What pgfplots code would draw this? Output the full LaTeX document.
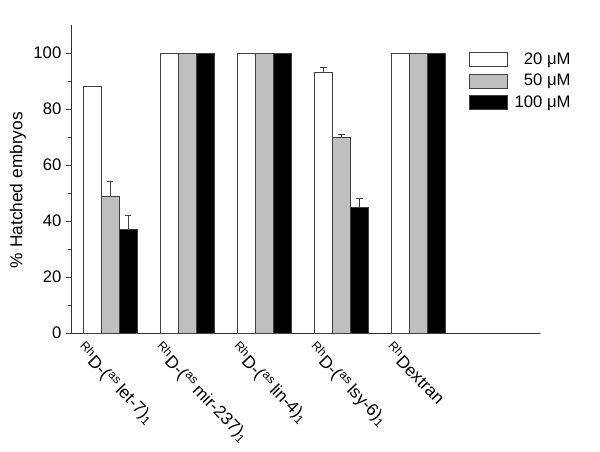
\documentclass[border=0pt]{standalone}
\usepackage{pgfplots}
\pgfplotsset{compat=1.18}
\usepackage{fontspec}
\setmainfont{Liberation Sans}
\newcommand{\lab}[1]{\textsuperscript{Rh}D-(\textsuperscript{as}\,#1)\textsubscript{1}}
\begin{document}
\begin{tikzpicture}
\useasboundingbox (0pt,0pt) rectangle (450pt,338.25pt);
\begin{axis}[
  at={(53.25pt,88.5pt)}, anchor=south west,
  scale only axis, width=351.75pt, height=231pt,
  ybar, bar width=0.234,
  xmin=-0.506, xmax=5.58, ymin=0, ymax=110,
  axis x line=bottom, axis y line=left,
  axis line style={-, black!80},
  ytick={0,20,...,100}, minor ytick={10,30,...,90},
  tick align=outside,
  major tick length=3.75pt, minor tick length=2.25pt,
  y tick style={black!80},
  xtick={-0.31,0.69,1.69,2.69,3.69},
  xticklabels={\lab{let-7},\lab{mir-237},\lab{lin-4},\lab{lsy-6},\textsuperscript{Rh}Dextran},
  x tick style={draw=none},
  xticklabel style={rotate=-46, anchor=north west, font=\fontsize{13}{15}\selectfont, inner sep=1pt},
  yticklabel style={font=\fontsize{12.5}{15}\selectfont},
  /pgf/number format/assume math mode=true,
  ylabel={\% Hatched embryos},
  ylabel style={at={(axis description cs:-0.113,0.464)}, anchor=center, font=\fontsize{13}{15}\selectfont},
  legend image code/.code={\draw[#1] (0pt,-5.25pt) rectangle (28.5pt,5.25pt);},
  legend cell align=right,
  legend style={draw=none, fill=none, at={(0.849,0.92)}, anchor=north west, inner sep=0pt, row sep=2pt, font=\fontsize{12.5}{15}\selectfont},
  error bars/error bar style={black!75, line width=0.5pt},
  error bars/error mark options={rotate=90, black!75, mark size=2.6pt, line width=0.5pt},
]
\addplot[fill=white, draw=black!75, bar shift=-0.234]
  coordinates {(0,88) (1,100) (2,100) (3,93) (4,100)};
\addplot[fill=black!25, draw=black!75, bar shift=0]
  coordinates {(0,49) (1,100) (2,100) (3,70) (4,100)};
\addplot[fill=black, draw=black!75, bar shift=0.234]
  coordinates {(0,37) (1,100) (2,100) (3,45) (4,100)};
\legend{20 μM, 50 μM, \hspace*{3pt}100 μM}
% error bars only where the reference shows them
\addplot[draw=none, fill=none, bar shift=-0.234, forget plot, error bars/.cd, y dir=plus, y explicit]
  coordinates {(3,93) +- (0,2)};
\addplot[draw=none, fill=none, bar shift=0, forget plot, error bars/.cd, y dir=plus, y explicit]
  coordinates {(0,49) +- (0,5) (3,70) +- (0,1)};
\addplot[draw=none, fill=none, bar shift=0.234, forget plot, error bars/.cd, y dir=plus, y explicit]
  coordinates {(0,37) +- (0,5) (3,45) +- (0,3)};
\end{axis}
\end{tikzpicture}
\end{document}
